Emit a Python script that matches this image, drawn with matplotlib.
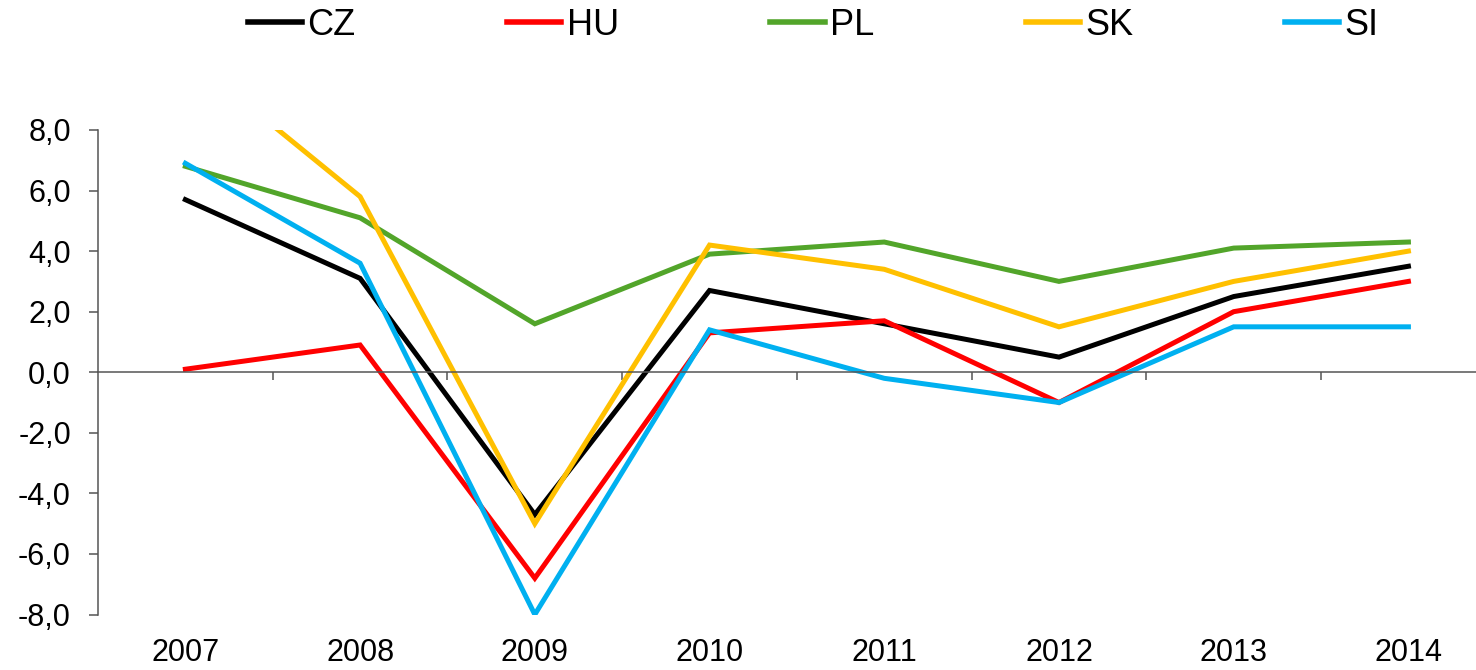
import matplotlib.pyplot as plt
from matplotlib.ticker import FuncFormatter

years = ['2007', '2008', '2009', '2010', '2011', '2012', '2013', '2014']
cz = [5.7, 3.1, -4.7, 2.7, 1.6, 0.5, 2.5, 3.5]
hu = [0.1, 0.9, -6.8, 1.3, 1.7, -1.0, 2.0, 3.0]
pl = [6.8, 5.1, 1.6, 3.9, 4.3, 3.0, 4.1, 4.3]
sk = [10.5, 5.8, -5.0, 4.2, 3.4, 1.5, 3.0, 4.0]
si = [6.9, 3.6, -8.0, 1.4, -0.2, -1.0, 1.5, 1.5]

plt.rcParams['font.family'] = ['Liberation Sans', 'DejaVu Sans']

fig = plt.figure(figsize=(14.76, 6.7), dpi=100)
# plot area runs a bit past the right edge, like the cropped original
ax = fig.add_axes([0.0664, 0.0828, 0.947, 0.7232])

x = list(range(len(years)))
series = [('CZ', cz, '#000000'), ('HU', hu, '#ff0000'), ('PL', pl, '#52a52a'),
          ('SK', sk, '#ffc000'), ('SI', si, '#00b0f0')]
for name, vals, col in series:
    ax.plot(x, vals, color=col, lw=3.6, label=name, solid_joinstyle='miter')

ax.set_xlim(-0.5, len(years) - 0.5)
ax.set_ylim(-8, 8)
ax.set_yticks(range(-8, 9, 2))
ax.yaxis.set_major_formatter(FuncFormatter(lambda v, p: f'{v:.1f}'.replace('.', ',')))
ax.tick_params(axis='y', labelsize=22, length=6.5, width=1.1, color='#555555', pad=13)

axis_col = '#555555'
for s in ['top', 'right']:
    ax.spines[s].set_visible(False)
ax.spines['left'].set_color(axis_col)
ax.spines['left'].set_linewidth(1.1)
ax.spines['bottom'].set_position(('data', 0))
ax.spines['bottom'].set_color(axis_col)
ax.spines['bottom'].set_linewidth(1.1)

# boundary ticks on the zero line, no labels there
ax.set_xticks([i + 0.5 for i in x])
ax.set_xticklabels([])
ax.tick_params(axis='x', length=6, width=1.1, color=axis_col, direction='out')

# year labels sit under the plot area
sec = ax.secondary_xaxis('bottom')
sec.set_xticks(x)
sec.set_xticklabels(years)
sec.spines['bottom'].set_visible(False)
sec.tick_params(axis='x', length=0, labelsize=22, pad=17)

leg = fig.legend(loc='center', bbox_to_anchor=(0.551, 0.962), ncol=5, frameon=False,
                 handlelength=1.5, handletextpad=0.15, columnspacing=4.2,
                 prop={'size': 26})
for ln in leg.get_lines():
    ln.set_linewidth(4)

fig.savefig('out.png', dpi=100)
